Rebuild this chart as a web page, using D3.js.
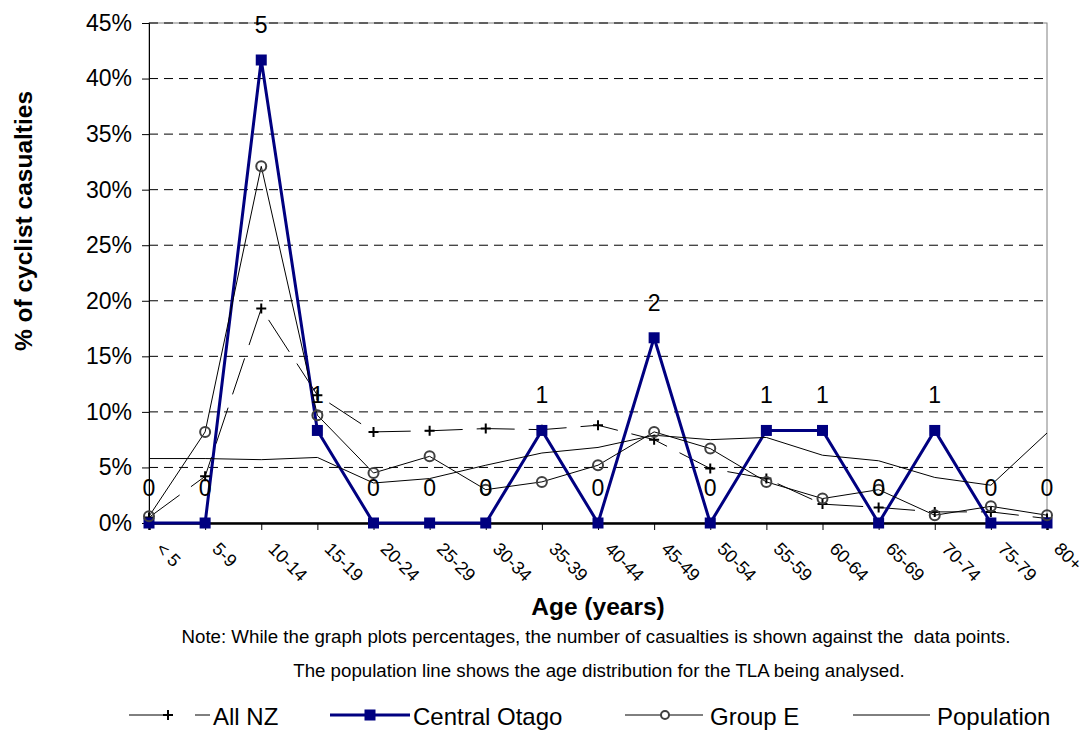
<!DOCTYPE html>
<html>
<head>
<meta charset="utf-8">
<script src="https://cdn.jsdelivr.net/npm/d3@7"></script>
<style>
  body { margin: 0; background: #fff; }
  svg { font-family: "Liberation Sans", Arial, sans-serif; }
</style>
</head>
<body>
<div id="chart"></div>
<script>
// categories and series (% of cyclist casualties)
const ages = ["< 5", "5-9", "10-14", "15-19", "20-24", "25-29", "30-34", "35-39", "40-44",
              "45-49", "50-54", "55-59", "60-64", "65-69", "70-74", "75-79", "80+"];
const allNZ = [0.5, 4.2, 19.3, 11.5, 8.2, 8.3, 8.5, 8.4, 8.8, 7.5, 4.9, 4.0, 1.7, 1.4, 1.0, 1.0, 0.4];
const centralOtago = [0, 0, 41.67, 8.33, 0, 0, 0, 8.33, 0, 16.67, 0, 8.33, 8.33, 0, 8.33, 0, 0];
const casualties = [0, 0, 5, 1, 0, 0, 0, 1, 0, 2, 0, 1, 1, 0, 1, 0, 0];
const groupE = [0.6, 8.2, 32.1, 9.7, 4.5, 6.0, 3.0, 3.7, 5.2, 8.2, 6.7, 3.7, 2.2, 3.0, 0.7, 1.5, 0.7];
const population = [5.8, 5.8, 5.7, 5.9, 3.6, 4.0, 5.2, 6.3, 6.8, 7.9, 7.5, 7.7, 6.1, 5.6, 4.1, 3.4, 8.1];
const yTicks = [0, 5, 10, 15, 20, 25, 30, 35, 40, 45];

const W = 1083, H = 731;
const margin = {top: 23, right: 36, bottom: 208, left: 149};
const width = W - margin.left - margin.right;
const height = H - margin.top - margin.bottom;

const svg = d3.select("#chart").append("svg")
    .attr("width", W)
    .attr("height", H);

const g = svg.append("g")
    .attr("transform", `translate(${margin.left},${margin.top})`);

const x = d3.scalePoint().domain(ages).range([0, width]);
const y = d3.scaleLinear().domain([0, 45]).range([height, 0]);

// plot area border (grey)
g.append("rect")
    .attr("width", width).attr("height", height)
    .attr("fill", "none").attr("stroke", "#808080");

// dashed gridlines
g.selectAll(".grid").data(yTicks.filter(d => d > 0)).enter()
    .append("line")
    .attr("x1", 0).attr("x2", width)
    .attr("y1", d => y(d)).attr("y2", d => y(d))
    .attr("stroke", "#000").attr("stroke-dasharray", "9,6");

// y axis
const yAxis = g.append("g")
    .call(d3.axisLeft(y).tickValues(yTicks).tickFormat(d => d + "%").tickSize(7).tickPadding(10));
yAxis.select(".domain").attr("stroke", "#000");
yAxis.selectAll("text").attr("font-size", 23).attr("fill", "#000");

// x axis
const xAxis = g.append("g")
    .attr("transform", `translate(0,${height})`)
    .call(d3.axisBottom(x).tickSize(7).tickFormat(""));
xAxis.select(".domain").attr("stroke", "#000").attr("stroke-width", 2.5);

g.selectAll(".xlab").data(ages).enter()
    .append("text")
    .attr("transform", d => `translate(${x(d) + 6},${height + 27}) rotate(45)`)
    .attr("font-size", 18)
    .text(d => d);

// series
const line = d3.line().x((d, i) => x(ages[i])).y(d => y(d));

g.append("path").datum(allNZ)
    .attr("d", line).attr("fill", "none")
    .attr("stroke", "#000").attr("stroke-width", 1)
    .attr("stroke-dasharray", "38,14");

g.append("path").datum(centralOtago)
    .attr("d", line).attr("fill", "none")
    .attr("stroke", "#000080").attr("stroke-width", 3);

g.append("path").datum(groupE)
    .attr("d", line).attr("fill", "none")
    .attr("stroke", "#000").attr("stroke-width", 1);

g.append("path").datum(population)
    .attr("d", line).attr("fill", "none")
    .attr("stroke", "#000").attr("stroke-width", 1);

// markers
g.selectAll(".plus").data(allNZ).enter()
    .append("path")
    .attr("d", (d, i) => {
        const cx = x(ages[i]), cy = y(d);
        return `M${cx - 5},${cy}H${cx + 5}M${cx},${cy - 5}V${cy + 5}`;
    })
    .attr("stroke", "#000").attr("stroke-width", 2);

g.selectAll(".sq").data(centralOtago).enter()
    .append("rect")
    .attr("x", (d, i) => x(ages[i]) - 5.5).attr("y", d => y(d) - 5.5)
    .attr("width", 11).attr("height", 11)
    .attr("fill", "#000080");

g.selectAll(".circ").data(groupE).enter()
    .append("circle")
    .attr("cx", (d, i) => x(ages[i])).attr("cy", d => y(d))
    .attr("r", 5).attr("fill", "none")
    .attr("stroke", "#404040").attr("stroke-width", 2);

// casualty counts above Central Otago points
g.selectAll(".count").data(casualties).enter()
    .append("text")
    .attr("x", (d, i) => x(ages[i])).attr("y", (d, i) => y(centralOtago[i]) - 27)
    .attr("text-anchor", "middle").attr("font-size", 23)
    .text(d => d);

// titles and notes
svg.append("text")
    .attr("transform", `translate(32,221) rotate(-90)`)
    .attr("text-anchor", "middle").attr("font-size", 24.5).attr("font-weight", "bold")
    .text("% of cyclist casualties");

svg.append("text")
    .attr("x", 598).attr("y", 615)
    .attr("text-anchor", "middle").attr("font-size", 24.5).attr("font-weight", "bold")
    .text("Age (years)");

svg.append("text")
    .attr("x", 596).attr("y", 643)
    .attr("text-anchor", "middle").attr("font-size", 18.7)
    .style("white-space", "pre")
    .text("Note: While the graph plots percentages, the number of casualties is shown against the  data points.");

svg.append("text")
    .attr("x", 599).attr("y", 677)
    .attr("text-anchor", "middle").attr("font-size", 18.7)
    .text("The population line shows the age distribution for the TLA being analysed.");

// legend
const legY = 715;
const leg = svg.append("g").attr("font-size", 24);

leg.append("line").attr("x1", 129).attr("x2", 163).attr("y1", legY).attr("y2", legY).attr("stroke", "#000");
leg.append("line").attr("x1", 195).attr("x2", 210).attr("y1", legY).attr("y2", legY).attr("stroke", "#000");
leg.append("path").attr("d", `M163,${legY}H173M168,${legY - 5}V${legY + 5}`).attr("stroke", "#000").attr("stroke-width", 2);
leg.append("text").attr("x", 213).attr("y", legY + 10).text("All NZ");

leg.append("line").attr("x1", 330).attr("x2", 410).attr("y1", legY).attr("y2", legY)
    .attr("stroke", "#000080").attr("stroke-width", 3);
leg.append("rect").attr("x", 364.5).attr("y", legY - 5.5).attr("width", 11).attr("height", 11).attr("fill", "#000080");
leg.append("text").attr("x", 413).attr("y", legY + 10).text("Central Otago");

leg.append("line").attr("x1", 625).attr("x2", 703).attr("y1", legY).attr("y2", legY).attr("stroke", "#000");
leg.append("circle").attr("cx", 665).attr("cy", legY).attr("r", 4).attr("fill", "#fff")
    .attr("stroke", "#404040").attr("stroke-width", 2);
leg.append("text").attr("x", 710).attr("y", legY + 10).text("Group E");

leg.append("line").attr("x1", 853).attr("x2", 930).attr("y1", legY).attr("y2", legY).attr("stroke", "#000");
leg.append("text").attr("x", 937).attr("y", legY + 10).text("Population");
</script>
</body>
</html>
